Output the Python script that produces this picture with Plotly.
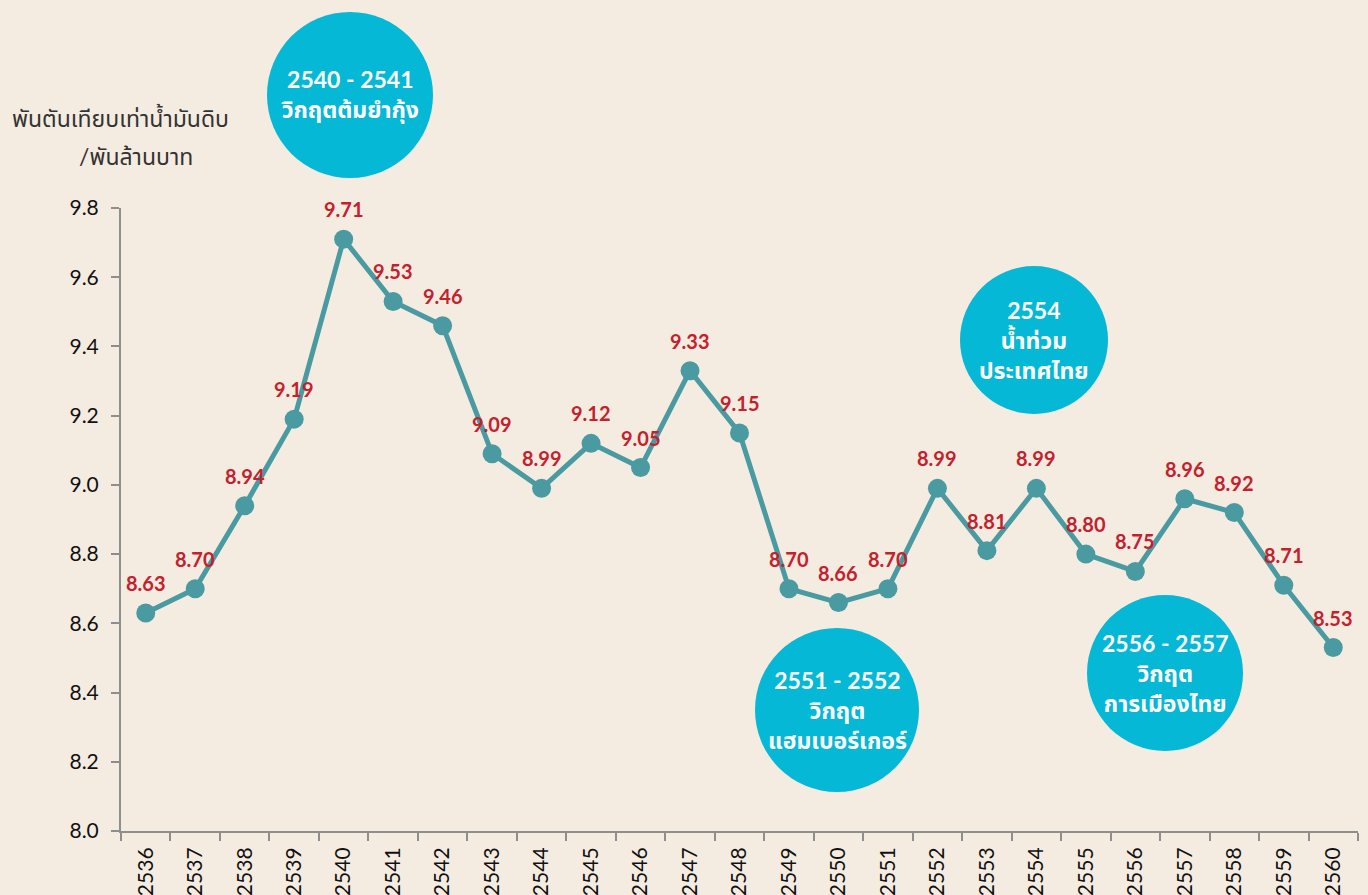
import plotly.graph_objects as go

# Energy intensity by Buddhist-era year
years = [str(y) for y in range(2536, 2561)]
values = [8.63, 8.70, 8.94, 9.19, 9.71, 9.53, 9.46, 9.09, 8.99, 9.12, 9.05, 9.33, 9.15,
          8.70, 8.66, 8.70, 8.99, 8.81, 8.99, 8.80, 8.75, 8.96, 8.92, 8.71, 8.53]
y_ticks = [8.0, 8.2, 8.4, 8.6, 8.8, 9.0, 9.2, 9.4, 9.6, 9.8]
y_title_lines = ["พันตันเทียบเท่าน้ำมันดิบ", "/พันล้านบาท"]

# Event bubbles: (centre x px, centre y px, radius px, text lines)
events = [
    (350, 95, 83, ["2540 - 2541", "วิกฤตต้มยำกุ้ง"]),
    (837, 710, 82, ["2551 - 2552", "วิกฤต", "แฮมเบอร์เกอร์"]),
    (1034, 340, 74, ["2554", "น้ำท่วม", "ประเทศไทย"]),
    (1165, 673, 78, ["2556 - 2557", "วิกฤต", "การเมืองไทย"]),
]

BG = "#F5ECE1"
LINE = "#4A9AA2"
RED = "#C3212D"
BUBBLE = "#05B8D6"
AXIS = "#8E8E8E"
FONT = "'Century Gothic', Lato, 'Noto Sans Thai', 'Noto Sans', sans-serif"

W, H = 1368, 895
L, R, T, B = 121, 10, 208, 64
PW, PH = W - L - R, H - T - B


def px_to_paper(px, py):
    return (px - L) / PW, (H - B - py) / PH


fig = go.Figure()
fig.add_trace(go.Scatter(
    x=years, y=values, mode="lines+markers",
    line=dict(color=LINE, width=5),
    marker=dict(color=LINE, size=19),
    hoverinfo="x+y", showlegend=False,
))

annotations = []
# value labels: on a category axis, annotation x is the category index
for i, v in enumerate(values):
    annotations.append(dict(
        x=i, y=v, xref="x", yref="y", text=f"<b>{v:.2f}</b>", showarrow=False,
        yshift=30, font=dict(family=FONT, size=20, color=RED),
    ))

shapes = []
for cx, cy, r, lines in events:
    x0, y0 = px_to_paper(cx - r, cy + r)
    x1, y1 = px_to_paper(cx + r, cy - r)
    shapes.append(dict(type="circle", xref="paper", yref="paper", x0=x0, y0=y0, x1=x1, y1=y1,
                       fillcolor=BUBBLE, line=dict(width=0), layer="above"))
    ax, ay = px_to_paper(cx, cy)
    annotations.append(dict(
        x=ax, y=ay, xref="paper", yref="paper", showarrow=False,
        text="<br>".join(f"<b>{t}</b>" for t in lines),
        font=dict(family=FONT, size=23, color="white"), align="center",
        xanchor="center", yanchor="middle",
    ))

for (cx, cy), txt in zip([(120, 118), (136, 156)], y_title_lines):
    ax, ay = px_to_paper(cx, cy)
    annotations.append(dict(
        x=ax, y=ay, xref="paper", yref="paper", showarrow=False, text=txt,
        font=dict(family=FONT, size=23, color="#333333"), xanchor="center", yanchor="middle",
    ))

fig.update_layout(
    width=W, height=H, paper_bgcolor=BG, plot_bgcolor=BG,
    margin=dict(l=L, r=R, t=T, b=B),
    shapes=shapes, annotations=annotations,
    xaxis=dict(
        type="category", range=[-0.5, len(years) - 0.5], tickangle=-90, automargin=False,
        ticklabelstandoff=6,
        showgrid=False, zeroline=False,
        showline=True, linecolor=AXIS, linewidth=2,
        ticks="outside", tickson="boundaries", ticklen=8, tickcolor=AXIS, tickwidth=2,
        tickfont=dict(family=FONT, size=21, color="#111111"),
    ),
    yaxis=dict(
        range=[8.0, 9.8], tickvals=y_ticks, ticktext=[f"{t:.1f}" for t in y_ticks],
        automargin=False, ticklabelstandoff=8,
        showgrid=False, zeroline=False, showline=True, linecolor=AXIS, linewidth=2,
        ticks="outside", ticklen=8, tickcolor=AXIS, tickwidth=2,
        tickfont=dict(family=FONT, size=21, color="#111111"),
    ),
)

fig.write_html("out.html")
